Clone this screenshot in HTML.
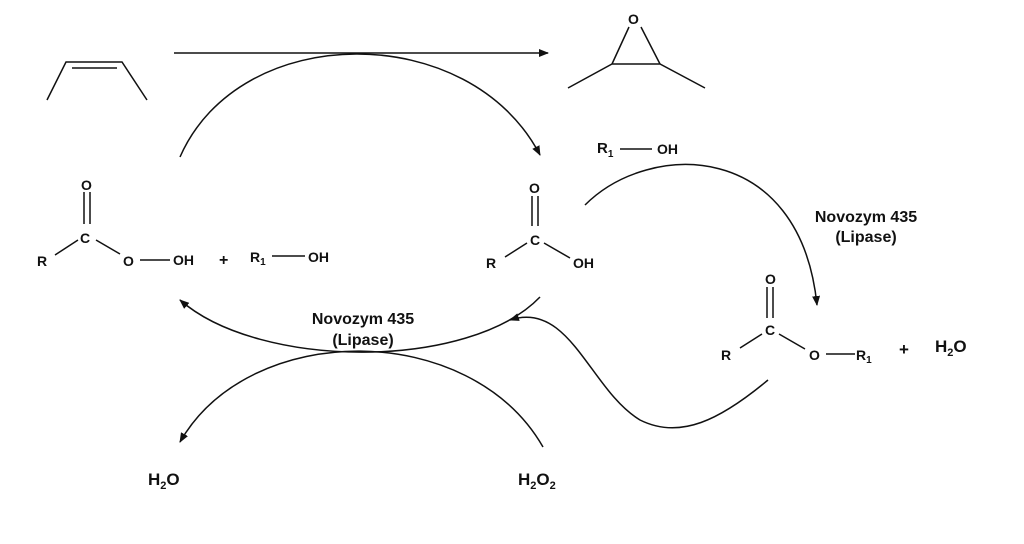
<!DOCTYPE html>
<html><head><style>
html,body{margin:0;padding:0;background:#fff;}
svg{display:block}
text{font-family:"Liberation Sans",Arial,sans-serif;font-weight:bold;fill:#111;}
</style></head><body>
<svg width="1024" height="544" viewBox="0 0 1024 544" xmlns="http://www.w3.org/2000/svg">
<defs>
<marker id="ah" markerWidth="10" markerHeight="8" refX="9" refY="4" orient="auto" markerUnits="userSpaceOnUse">
<path d="M0,0 L10,4 L0,8 z" fill="#111"/></marker>
</defs>
<g stroke="#111" stroke-width="1.5" fill="none">
<!-- butene -->
<path d="M47,100 L66,62 L122,62 L147,100"/>
<path d="M72,68 L117,68"/>
<!-- top arrow -->
<path d="M174,53 L548,53" marker-end="url(#ah)"/>
<!-- epoxide -->
<path d="M568,88 L612,64 L660,64 L705,88"/>
<path d="M612,64 L629,27 M660,64 L641,27"/>
<!-- big top arc -->
<path d="M180,157 C240,20 470,20 540,155" marker-end="url(#ah)"/>
<!-- right arc -->
<path d="M585,205 C650,140 800,140 817,305" marker-end="url(#ah)"/>
<!-- peracid -->
<path d="M84,192 L84,224 M90,192 L90,224"/>
<path d="M55,255 L78,240 M96,240 L120,254 M140,260 L170,260"/>
<path d="M272,256 L305,256"/>
<!-- acid -->
<path d="M532,196 L532,226 M538,196 L538,226"/>
<path d="M505,257 L527,243 M544,243 L570,258"/>
<!-- ester -->
<path d="M767,287 L767,318 M773,287 L773,318"/>
<path d="M740,348 L762,334 M779,334 L805,349 M826,354 L855,354"/>
<!-- lower arcs -->
<path d="M540,297 C470,370 260,370 180,300" marker-end="url(#ah)"/>
<path d="M543,447 C470,320 250,320 180,442" marker-end="url(#ah)"/>
<!-- wave -->
<path d="M768,380 C720,420 680,440 640,420 C590,390 570,300 510,320" marker-end="url(#ah)"/>
</g>
<g font-size="14">
<text x="628" y="24">O</text>
<text x="81" y="190">O</text>
<text x="80" y="243">C</text>
<text x="37" y="266">R</text>
<text x="123" y="266">O</text>
<text x="173" y="265">OH</text>
<text x="219" y="265" font-size="16">+</text>
<text x="250" y="262">R<tspan font-size="10" dy="3">1</tspan></text>
<text x="308" y="262">OH</text>
<text x="529" y="193">O</text>
<text x="530" y="245">C</text>
<text x="486" y="268">R</text>
<text x="573" y="268">OH</text>
<text x="597" y="153" font-size="15">R<tspan font-size="10" dy="4">1</tspan></text>
<path d="M620,149 L652,149" stroke="#111" stroke-width="1.5"/>
<text x="657" y="154">OH</text>
<text x="765" y="284">O</text>
<text x="765" y="335">C</text>
<text x="721" y="360">R</text>
<text x="809" y="360">O</text>
<text x="856" y="360">R<tspan font-size="10" dy="3">1</tspan></text>
<text x="899" y="355" font-size="17">+</text>
<text x="935" y="352" font-size="17">H<tspan font-size="11" dy="4">2</tspan><tspan dy="-4">O</tspan></text>
<text x="866" y="222" text-anchor="middle" font-size="16">Novozym 435</text>
<text x="866" y="242" text-anchor="middle" font-size="16">(Lipase)</text>
<text x="363" y="324" text-anchor="middle" font-size="16">Novozym 435</text>
<text x="363" y="345" text-anchor="middle" font-size="16">(Lipase)</text>
<text x="148" y="485" font-size="17">H<tspan font-size="11" dy="4">2</tspan><tspan dy="-4">O</tspan></text>
<text x="518" y="485" font-size="17">H<tspan font-size="11" dy="4">2</tspan><tspan dy="-4">O</tspan><tspan font-size="11" dy="4">2</tspan></text>
</g>
</svg>
</body></html>
